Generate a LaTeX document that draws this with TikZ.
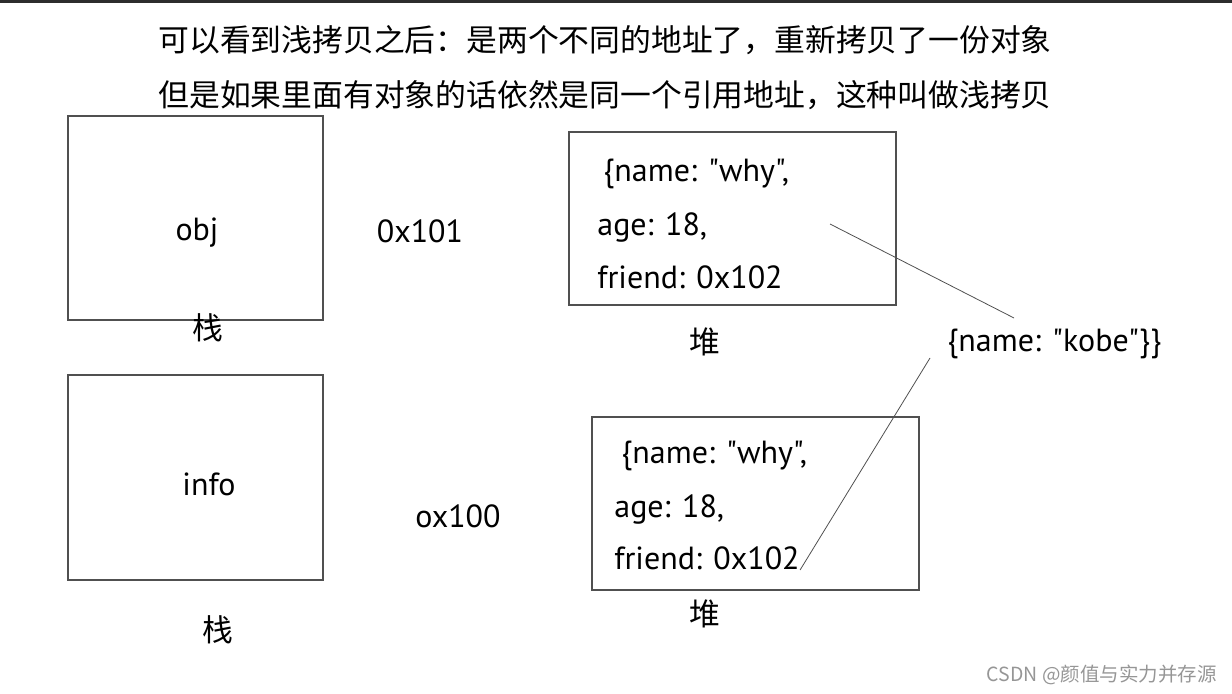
\documentclass[tikz,border=0pt]{standalone}
\usepackage{fontspec}
\setmainfont{PT Sans}[Ligatures=TeXOff]
\newfontfamily\cjk{Noto Sans CJK SC}
\usetikzlibrary{positioning}
\definecolor{boxGray}{RGB}{80,80,80}
\definecolor{barDark}{RGB}{45,45,45}
\definecolor{markGray}{RGB}{150,150,150}
\newcommand{\memtxt}{\fontsize{16}{19}\selectfont}
\newcommand{\cntxt}{\cjk\fontsize{15.4}{18}\selectfont}

\begin{document}
\begin{tikzpicture}[
    x=0.5pt,y=-0.5pt,
    membox/.style={draw=boxGray,line width=0.6pt,anchor=north west,inner sep=0pt,outer sep=0pt},
    val/.style={font=\memtxt,inner sep=0pt,anchor=base west},
    addr/.style={font=\memtxt,inner sep=0pt,anchor=base},
    zone/.style={font=\cntxt,inner sep=0pt},
    link/.style={draw=boxGray,line width=0.4pt}
  ]
    \useasboundingbox (0,0) rectangle (1232,694);
    \fill[barDark] (0,0) rectangle (1232,3);
    % title
    \node[zone] (title1) at (605,40) {可以看到浅拷贝之后：是两个不同的地址了，重新拷贝了一份对象};
    \node[zone] (title2) at (605,95) {但是如果里面有对象的话依然是同一个引用地址，这种叫做浅拷贝};
    % stack
    \node[membox,minimum width=127.5pt,minimum height=102pt] (objbox) at (68,116) {};
    \node[addr] (objname) at (197,241) {obj};
    \node[zone] (stack1) at (208,328) {栈};
    \node[membox,minimum width=127.5pt,minimum height=102.5pt] (infobox) at (68,375) {};
    \node[addr] (infoname) at (209,496) {info};
    \node[zone] (stack2) at (218,630) {栈};
    \node[addr] (addr1) at (420,243) {0x101};
    \node[addr] (addr2) at (458,528) {ox100};
    % heap
    \node[membox,minimum width=163.5pt,minimum height=86.5pt] (heapbox1) at (569,132) {};
    \node[val] (h1name) at (603,182) {\{name: "why",};
    \node[val] (h1age) at (597,236) {age: 18,};
    \node[val] (h1friend) at (597,289) {friend: 0x102};
    \node[zone] (heap1) at (705,342) {堆};
    \node[membox,minimum width=163.5pt,minimum height=86.5pt] (heapbox2) at (592,417) {};
    \node[val] (h2name) at (621,464) {\{name: "why",};
    \node[val] (h2age) at (614,518) {age: 18,};
    \node[val] (h2friend) at (614,570) {friend: 0x102};
    \node[zone] (heap2) at (705,614) {堆};
    \node[val] (kobe) at (947,352) {\{name: "kobe"\}\}};
    % references
    \coordinate (refA) at (830,224);
    \coordinate (refB) at (1014,318);
    \coordinate (refC) at (930,358);
    \draw[link] (refA) -- (refB);
    \draw[link] (refC) -- (h2friend.base east);
    \node[font=\cjk\fontsize{9.75}{12}\selectfont,text=markGray,anchor=east,inner sep=0pt] (mark) at (1217,675) {CSDN @颜值与实力并存源};
  \end{tikzpicture}
\end{document}
